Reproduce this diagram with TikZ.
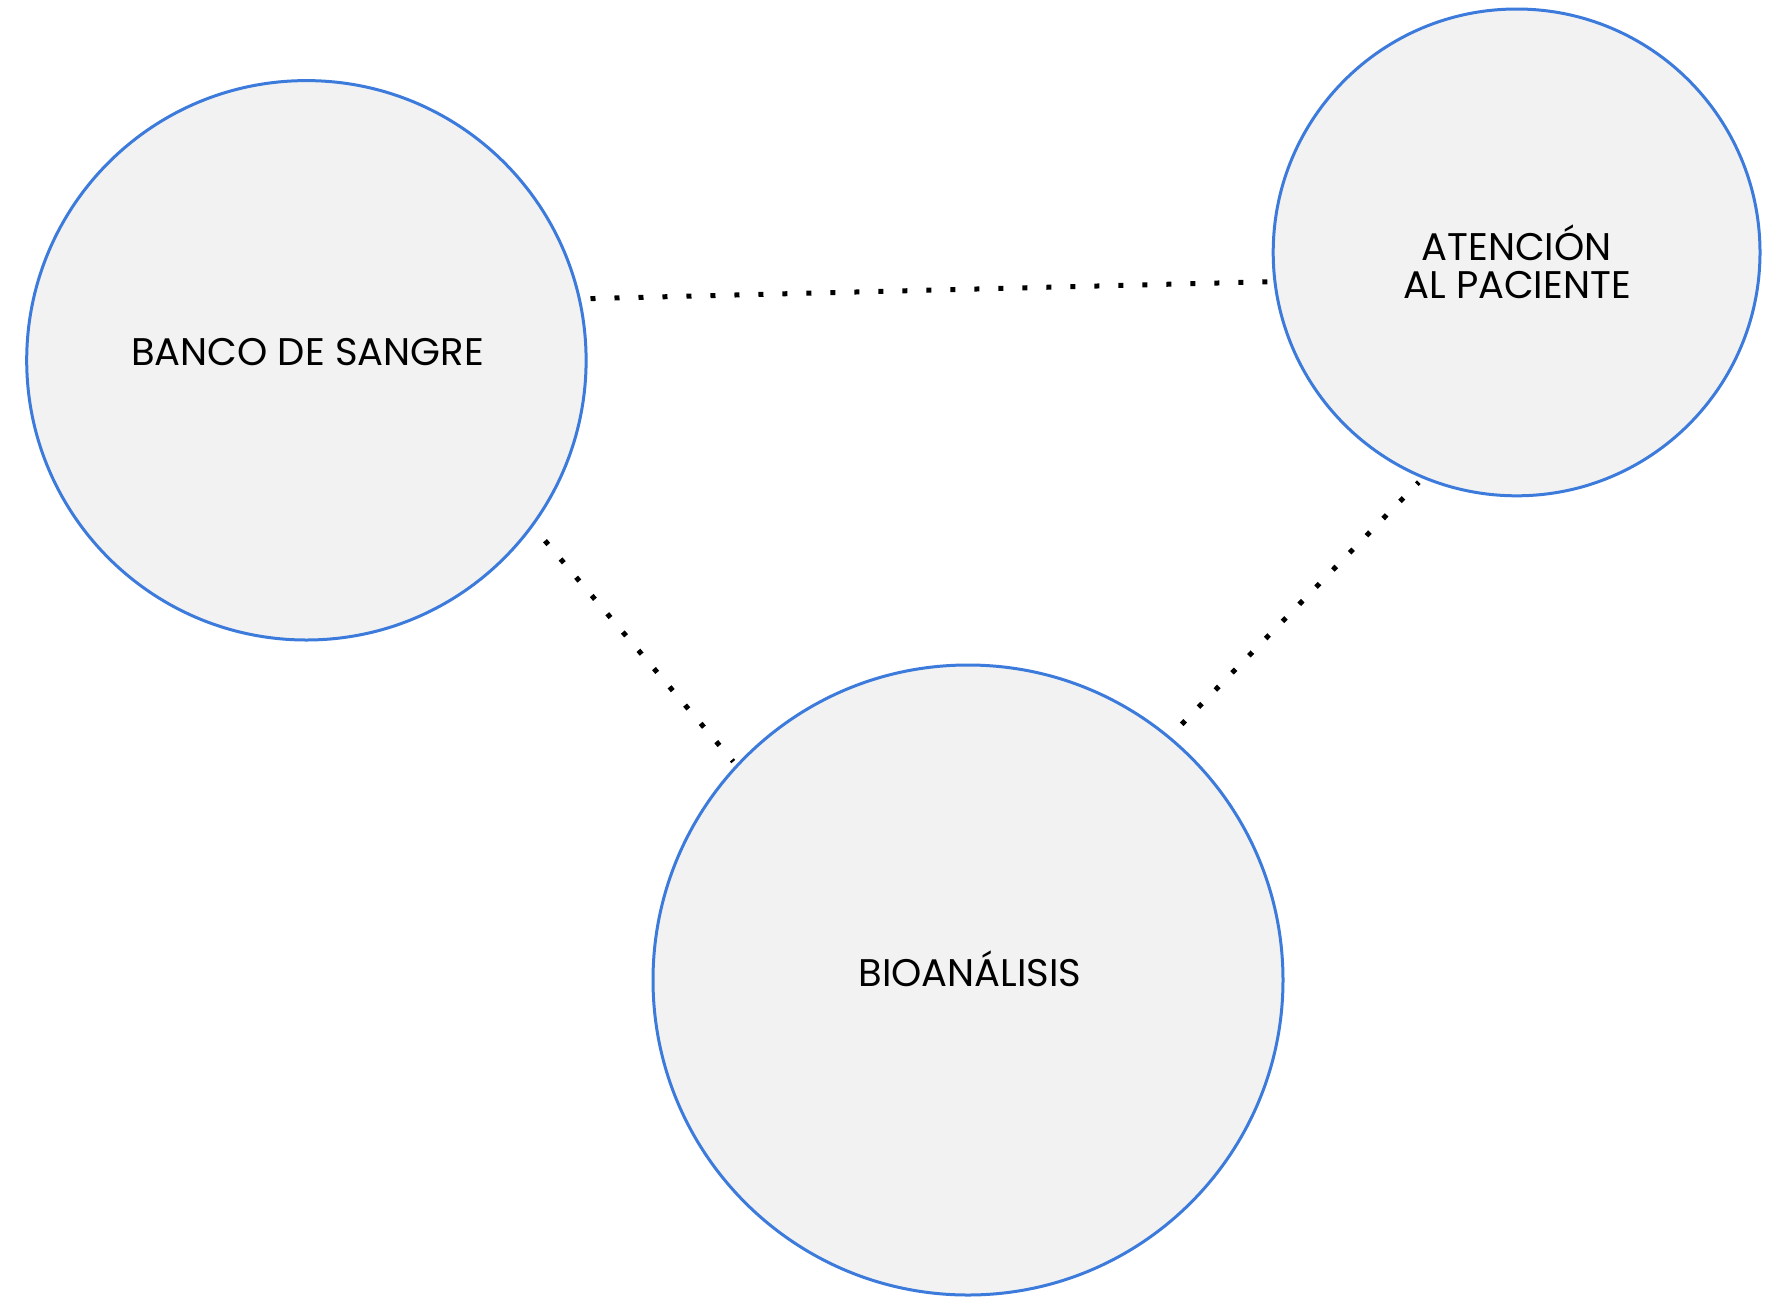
\documentclass[tikz,border=0pt]{standalone}
\usepackage{fontspec}
\setmainfont{Poppins}
\usetikzlibrary{calc}
\definecolor{ringblue}{HTML}{3C7BDB}
\definecolor{ringfill}{HTML}{F2F2F2}
\tikzset{
  area/.style={circle, draw=ringblue, line width=3pt, fill=ringfill, inner sep=0pt},
  label/.style={font=\fontsize{38.5}{41}\selectfont, anchor=base, inner sep=0pt},
  link/.style={line width=5pt, line cap=butt, dash pattern=on 5pt off 19pt, black, shorten >=-3pt}
}
\begin{document}
\begin{tikzpicture}[x=1pt,y=-1pt]
\useasboundingbox (0,0) rectangle (1767,1296);
\fill[white] (0,0) rectangle (1767,1296);
\node[area, minimum size=559.4pt] (banco) at (306.4,360.3) {};
\node[area, minimum size=486.8pt] (aten) at (1516.6,252.4) {};
\node[area, minimum size=630pt] (bio) at (968,980) {};
\node[label] (tbanco) at (307.5,365) {BANCO DE SANGRE};
\node[label] (taten1) at (1516.7,260.7) {ATENCIÓN};
\node[label] (taten2) at (1517,298.3) {AL PACIENTE};
\node[label] (tbio) at (970,986.7) {BIOANÁLISIS};
\draw[link] ($(banco.center)+(284.1,-61.7)$) -- ($(aten.center)+(-246.6,29.3)$);
\draw[link] ($(banco.center)+(238.6,180.4)$) -- ($(bio.center)+(-236.7,-220.7)$);
\draw[link] ($(bio.center)+(213.7,-255.7)$) -- ($(aten.center)+(-99.9,231.9)$);
\end{tikzpicture}
\end{document}
